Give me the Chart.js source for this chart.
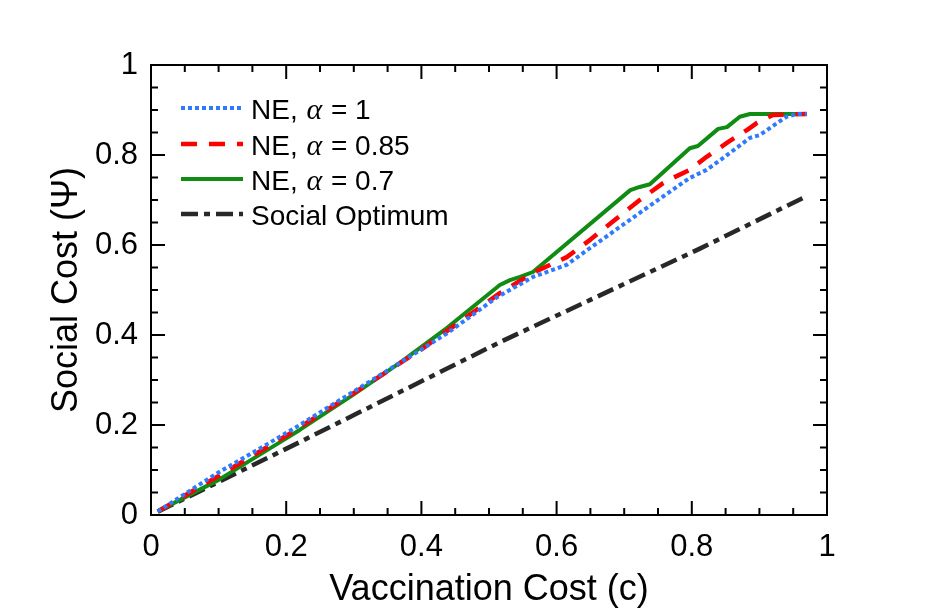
<!DOCTYPE html>
<html>
<head>
<meta charset="utf-8">
<script src="https://cdn.jsdelivr.net/npm/chart.js@4/dist/chart.umd.min.js"></script>
<style>
  html, body { margin: 0; padding: 0; background: #fff; }
  #wrap { width: 938px; height: 613px; }
</style>
</head>
<body>
<div id="wrap"><canvas id="c" width="938" height="613"></canvas></div>
<script>
// ---- data ----
const seriesLabels = ['NE, α = 1', 'NE, α = 0.85', 'NE, α = 0.7', 'Social Optimum'];

const cAlpha1   = [0.01, 0.098, 0.20, 0.22, 0.339, 0.40, 0.438, 0.512, 0.565, 0.615, 0.639, 0.733, 0.797, 0.822, 0.846, 0.886, 0.90, 0.94, 0.955, 0.97];
const psiAlpha1 = [0.008, 0.093, 0.182, 0.20, 0.311, 0.368, 0.404, 0.484, 0.529, 0.556, 0.582, 0.682, 0.749, 0.767, 0.793, 0.838, 0.844, 0.885, 0.891, 0.891];

const cAlpha085   = [0.01, 0.10, 0.20, 0.30, 0.40, 0.45, 0.516, 0.565, 0.615, 0.65, 0.723, 0.757, 0.772, 0.797, 0.822, 0.854, 0.882, 0.896, 0.92, 0.97];
const psiAlpha085 = [0.008, 0.087, 0.176, 0.271, 0.368, 0.422, 0.493, 0.538, 0.573, 0.612, 0.70, 0.737, 0.749, 0.767, 0.796, 0.829, 0.856, 0.871, 0.889, 0.891];

const cAlpha07   = [0.01, 0.10, 0.191, 0.22, 0.30, 0.368, 0.438, 0.516, 0.531, 0.546, 0.565, 0.709, 0.723, 0.738, 0.797, 0.809, 0.839, 0.852, 0.871, 0.886, 0.97];
const psiAlpha07 = [0.008, 0.078, 0.162, 0.189, 0.268, 0.338, 0.416, 0.511, 0.522, 0.529, 0.54, 0.722, 0.729, 0.735, 0.815, 0.82, 0.858, 0.862, 0.885, 0.891, 0.891];

const cOpt   = [0.01, 0.22, 0.516, 0.812, 0.965];
const psiOpt = [0.007, 0.162, 0.384, 0.592, 0.705];

const xTickValues = [0, 0.2, 0.4, 0.6, 0.8, 1];
const yTickValues = [0, 0.2, 0.4, 0.6, 0.8, 1];
const minorStep = 0.05;

// ---- helpers ----
function pts(xs, ys) { return xs.map((x, i) => ({ x: x, y: ys[i] })); }

const SANS = "'Liberation Sans', Arial, Helvetica, sans-serif";
const SERIF = "'Liberation Serif', 'Times New Roman', serif";

// Inner ticks on all four sides + frame
const frameTicks = {
  id: 'frameTicks',
  afterDraw(chart) {
    const { ctx, chartArea: a, scales } = chart;
    ctx.save();
    ctx.strokeStyle = '#000';
    ctx.lineWidth = 2;
    ctx.lineCap = 'butt';
    const majorLen = 14, minorLen = 7;
    const n = Math.round(1 / minorStep);
    for (let i = 1; i < n; i++) {
      const v = i * minorStep;
      const major = (i % 4 === 0);
      const len = major ? majorLen : minorLen;
      const px = scales.x.getPixelForValue(v);
      const py = scales.y.getPixelForValue(v);
      ctx.beginPath();
      ctx.moveTo(px, a.bottom); ctx.lineTo(px, a.bottom - len);
      ctx.moveTo(px, a.top); ctx.lineTo(px, a.top + len);
      ctx.moveTo(a.left, py); ctx.lineTo(a.left + len, py);
      ctx.moveTo(a.right, py); ctx.lineTo(a.right - len, py);
      ctx.stroke();
    }
    ctx.lineWidth = 2;
    ctx.strokeRect(a.left, a.top, a.right - a.left, a.bottom - a.top);
    ctx.restore();
  }
};

// Legend with italic serif alpha
const mixedLegend = {
  id: 'mixedLegend',
  afterDatasetsDraw(chart) {
    const { ctx } = chart;
    const x0 = 181, x1 = 243, tx = 251;
    const ys = [108, 144, 179, 214];
    const fs = 28;
    ctx.save();
    chart.data.datasets.forEach((ds, i) => {
      const y = ys[i];
      ctx.beginPath();
      ctx.strokeStyle = ds.borderColor;
      ctx.lineWidth = ds.borderWidth;
      ctx.setLineDash(ds.borderDash || []);
      ctx.moveTo(x0, y); ctx.lineTo(x1, y);
      ctx.stroke();
      ctx.setLineDash([]);
      ctx.fillStyle = '#000';
      ctx.textBaseline = 'middle';
      ctx.textAlign = 'left';
      const parts = ds.label.split('α');
      let x = tx;
      parts.forEach((p, k) => {
        ctx.font = fs + 'px ' + SANS;
        ctx.fillText(p, x, y + 3);
        x += ctx.measureText(p).width;
        if (k < parts.length - 1) {
          ctx.font = 'italic ' + (fs + 2) + 'px ' + SERIF;
          ctx.fillText('α', x + 1, y + 3);
          x += ctx.measureText('α').width + 2;
        }
      });
    });
    ctx.restore();
  }
};

const chart = new Chart(document.getElementById('c'), {
  type: 'line',
  data: {
    datasets: [
      { label: seriesLabels[0], data: pts(cAlpha1, psiAlpha1), borderColor: 'rgb(48,122,255)', borderWidth: 4, borderDash: [4, 3] },
      { label: seriesLabels[1], data: pts(cAlpha085, psiAlpha085), borderColor: 'rgb(255,0,0)', borderWidth: 4.5, borderDash: [16, 12] },
      { label: seriesLabels[2], data: pts(cAlpha07, psiAlpha07), borderColor: 'rgb(16,140,20)', borderWidth: 4, borderDash: [] },
      { label: seriesLabels[3], data: pts(cOpt, psiOpt), borderColor: 'rgb(40,40,40)', borderWidth: 4.5, borderDash: [17, 6, 6, 6] }
    ]
  },
  options: {
    responsive: false,
    animation: false,
    devicePixelRatio: 1,
    layout: { padding: { left: 0, right: 111, top: 65, bottom: 0 } },
    elements: { point: { radius: 0 }, line: { tension: 0, fill: false, borderCapStyle: 'butt', borderJoinStyle: 'round' } },
    plugins: { legend: { display: false }, tooltip: { enabled: false } },
    scales: {
      x: {
        type: 'linear', min: 0, max: 1,
        afterFit(s) { s.height = 98; },
        afterBuildTicks(s) { s.ticks = xTickValues.map(v => ({ value: v })); },
        grid: { display: false, drawTicks: false },
        border: { display: false },
        ticks: { color: '#000', font: { family: SANS, size: 31 }, padding: 14, maxRotation: 0, autoSkip: false, callback: v => String(v) },
        title: { display: true, text: 'Vaccination Cost (c)', color: '#000', font: { family: SANS, size: 36, lineHeight: 1.2 }, padding: { top: 0, bottom: 1 } }
      },
      y: {
        type: 'linear', min: 0, max: 1,
        afterFit(s) { s.width = 151; },
        afterBuildTicks(s) { s.ticks = yTickValues.map(v => ({ value: v })); },
        grid: { display: false, drawTicks: false },
        border: { display: false },
        ticks: { color: '#000', font: { family: SANS, size: 31 }, padding: 13, autoSkip: false, callback: v => String(v) },
        title: { display: true, text: 'Social Cost (Ψ)', color: '#000', font: { family: SANS, size: 36, lineHeight: 1.2 }, padding: { top: 45, bottom: 0 } }
      }
    }
  },
  plugins: [frameTicks, mixedLegend]
});
</script>
</body>
</html>
